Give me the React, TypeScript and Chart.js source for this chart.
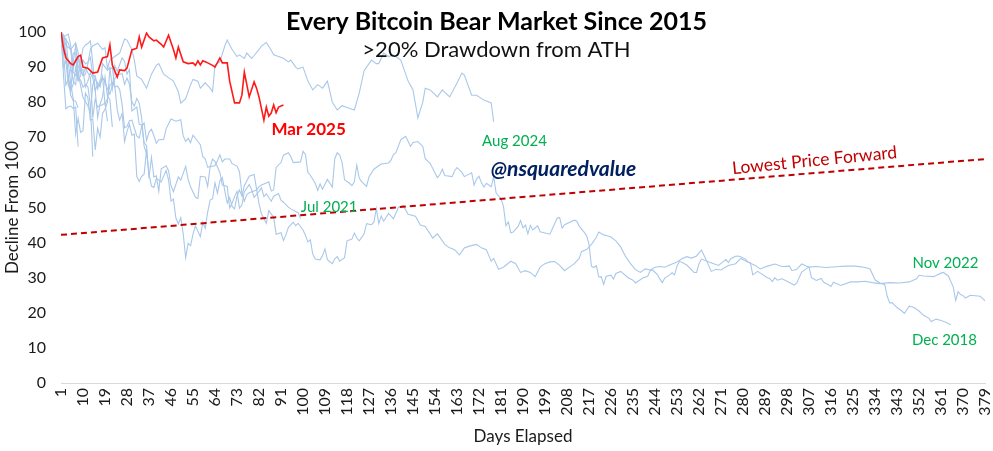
import React, { useEffect, useRef } from "react";
import { Chart, registerables } from "chart.js";

Chart.register(...registerables);

// ---------- data ----------
const X_TICKS = [1, 10, 19, 28, 37, 46, 55, 64, 73, 82, 91, 100, 109, 118, 127, 136, 145, 154, 163, 172, 181, 190, 199, 208, 217, 226, 235, 244, 253, 262, 271, 280, 289, 298, 307, 316, 325, 334, 343, 352, 361, 370, 379];
const Y_MIN = 0;
const Y_MAX = 100;
const Y_STEP = 10;

// [day, value]
const MAR_2025: [number, number][] = [
  [1, 100], [2, 95.5], [3, 92.6], [5, 91], [6, 90.6], [8, 93], [9, 93.4], [10, 90], [12, 89.7], [14, 88.3], [16, 88.6],
  [18, 92.6], [20, 93], [21, 96.3], [22, 90.6], [24, 87.2], [25, 89.2], [27, 89], [28, 89.7], [30, 94.9], [32, 95.4],
  [33, 98.6], [34, 95.7], [36, 99.7], [37, 98.6], [39, 97.5], [40, 97.7], [42, 96.5], [43, 95.7], [45, 99.1], [47, 95],
  [48, 92.6], [49, 95.7], [51, 91.5], [53, 91], [55, 91.2], [56, 90.5], [57, 91.8], [58, 90.6], [59, 91.8], [60, 91.5],
  [61, 91.2], [63, 90.5], [64, 90], [66, 92.6], [67, 91.2], [69, 91.2], [70, 86], [72, 79.8], [74, 79.8], [75, 82],
  [76, 88.6], [78, 81.5], [80, 85.8], [81, 84], [82, 81.5], [84, 74.9], [85, 78.6], [86, 76], [87, 76.9], [88, 79.2],
  [89, 77], [90, 78.6], [92, 79.2],
];

const AUG_2024: [number, number][] = [
  [1, 100], [2, 97.7], [3, 93.5], [4, 92], [5, 90], [6, 86], [7, 85], [8, 92.8], [9, 90], [10, 87.5], [11, 88], [12, 91],
  [13, 95], [14, 96], [16, 96.8], [18, 95], [19, 95.5], [20, 89.6], [21, 92], [23, 93], [25, 94], [27, 98], [28, 97.7],
  [30, 95], [31, 92], [32, 87.5], [34, 86.5], [36, 84], [37, 86], [38, 88], [40, 90.5], [41, 91], [43, 88], [45, 87],
  [47, 86], [49, 83], [50, 79.7], [52, 81], [54, 85], [55, 86.5], [57, 86], [58, 84], [60, 85.5], [62, 84], [63, 83],
  [64, 90.6], [66, 91.5], [68, 96], [69, 97.7], [71, 95], [73, 93], [74, 93.5], [76, 92.5], [77, 94], [79, 92.5],
  [80, 93.3], [82, 95], [83, 96], [85, 97], [87, 94.8], [88, 93.5], [90, 93], [92, 92.5], [94, 91.5], [95, 92], [97, 90],
  [98, 89.5], [100, 90], [102, 86], [104, 83.5], [106, 85], [108, 84], [110, 86], [112, 80], [114, 77.8], [116, 79],
  [118, 78.5], [121, 77.8], [123, 82.6], [125, 89], [128, 92], [130, 91], [131, 91], [133, 94], [135, 93], [137, 93.4],
  [140, 92], [143, 86], [145, 83.5], [147, 75.5], [149, 80], [150, 84], [152, 83.5], [155, 81.5], [157, 83.5],
  [160, 81.5], [163, 85.5], [165, 88.3], [166, 87.7], [169, 82], [171, 82], [174, 80.6], [177, 79.8], [178, 74.4],
];

const JUL_2021: [number, number][] = [
  [1, 100], [2, 99.1], [4, 96.7], [5, 94.6], [6, 88.5], [7, 87.7], [8, 89], [9, 84.7], [10, 81.4], [12, 78.9], [13, 77.2],
  [14, 85], [15, 86.6], [17, 84.4], [18, 91], [20, 89.1], [21, 90], [22, 83.9], [23, 90.4], [24, 88.8], [26, 92.6],
  [27, 91.7], [28, 88], [29, 89.3], [30, 77.5], [32, 78.6], [33, 73.7], [34, 73.5], [35, 68.5], [36, 67.6], [37, 58.3],
  [38, 64.3], [39, 58.7], [40, 59], [41, 54.6], [42, 61], [44, 61.9], [45, 60.5], [46, 56.2], [47, 54.5], [49, 58.7],
  [50, 57.8], [52, 61.7], [53, 58], [54, 55.9], [56, 52.9], [57, 52.6], [58, 58.9], [60, 58.7], [61, 56], [62, 61.6],
  [63, 63.8], [64, 63.1], [66, 60], [67, 56.4], [69, 56], [70, 49.9], [71, 51.2], [72, 53.1], [73, 54.6], [74, 49.8],
  [75, 50.7], [76, 54.5], [78, 56.5], [79, 55.1], [80, 52.9], [82, 54.6], [83, 55.6], [84, 53.1], [85, 53.9], [87, 51.8],
  [88, 53.2], [90, 54], [91, 52.1], [92, 51.5], [94, 50.1], [95, 49.6], [98, 48.5], [99, 46.9],
];

const NOV_2022: [number, number][] = [
  [1, 100], [2, 99.1], [3, 96.2], [5, 95], [7, 96.9], [8, 94.1], [9, 89], [10, 89.3], [11, 84.3], [12, 86], [13, 88.4],
  [14, 86.9], [15, 83.3], [16, 85.2], [17, 84.7], [18, 87.3], [19, 79.5], [20, 81], [21, 84.8], [22, 85.6], [23, 84.3],
  [24, 84.6], [25, 83.6], [26, 79.3], [27, 72.7], [28, 73.1], [29, 74.7], [30, 74.9], [32, 70.4], [33, 69.8], [34, 73.1],
  [35, 74.1], [36, 69.1], [37, 71.5], [38, 72.3], [39, 70.5], [40, 68.3], [41, 69.3], [43, 69.4], [44, 72.4], [46, 75.2],
  [48, 74.6], [50, 75], [51, 70.4], [52, 68.8], [53, 69.7], [54, 68.5], [55, 70.6], [57, 68.8], [58, 67.9], [59, 64.5],
  [60, 63.9], [61, 61.5], [64, 61.9], [65, 63.3], [66, 65], [67, 63], [68, 63.8], [70, 63.8], [71, 62.5], [73, 61.8],
  [74, 60.2], [75, 54], [76, 51.8], [77, 53.7], [78, 54.2], [81, 55], [82, 55.9], [83, 56.4], [85, 57], [86, 57.3],
  [87, 54.7], [88, 55], [89, 61.4], [91, 62.8], [92, 64.9], [94, 65.6], [95, 64.5], [96, 62.8], [99, 63], [100, 66],
  [101, 65.1], [102, 60], [103, 59.2], [105, 56.9], [106, 54.9], [107, 56.7], [108, 55.2], [109, 56.7], [110, 58],
  [112, 55.8], [113, 63.9], [114, 65.6], [115, 65], [116, 62.8], [117, 57.9], [119, 56.9], [120, 56.2], [121, 57.3],
  [122, 62.1], [123, 58.4], [124, 57.4], [126, 56], [127, 58.7], [129, 60.9], [131, 61.9], [132, 62.4], [135, 62.7],
  [136, 63.5], [137, 65.1], [138, 65.6], [140, 69.3], [141, 69.8], [142, 70.3], [144, 67.4], [145, 68.5], [147, 68.8],
  [149, 67.4], [150, 63.9], [152, 62.6], [155, 58.5], [156, 59.4], [157, 60.9], [158, 59.1], [161, 58.8], [162, 60.4],
  [163, 61.4], [165, 60], [166, 58.8], [169, 59.9], [170, 56.4], [171, 58.1], [172, 58.9], [173, 57.1], [174, 55.8],
  [175, 56.9], [177, 55.9], [178, 58.8], [179, 54.1], [180, 53.3], [181, 52.5], [182, 50.4], [183, 44.8], [184, 45.9],
  [185, 42.8], [186, 43], [188, 44.6], [189, 46.3], [190, 44.2], [191, 45], [192, 42.5], [193, 44.9], [194, 43.6],
  [196, 44.8], [197, 43.1], [201, 42.4], [204, 47], [205, 47.1], [206, 44.1], [207, 45.1], [211, 46.4], [212, 46.1],
  [213, 44.7], [215, 43], [216, 42], [217, 39.6], [218, 33.3], [219, 32.9], [220, 33.4], [221, 30.2], [222, 30.3],
  [223, 28.1], [224, 30.4], [226, 30.7], [227, 29.6], [228, 31.2], [230, 31.8], [233, 30], [235, 29.3], [236, 28.5],
  [239, 29.9], [241, 30.4], [242, 32], [243, 32.2], [245, 30.9], [246, 29.6], [247, 28.6], [248, 29.9], [250, 30.8],
  [251, 31.4], [252, 30.8], [253, 33.3], [254, 34.6], [255, 34.4], [257, 33.6], [260, 31.5], [261, 31.5], [262, 34],
  [263, 35.3], [266, 34.5], [268, 34], [270, 33.5], [273, 35.2], [274, 34.3], [275, 35.4], [277, 36.1], [278, 36.2],
  [279, 36], [281, 35.3], [282, 34.5], [283, 34.3], [284, 30.8], [285, 31.3], [286, 31.8], [290, 30], [291, 29.7],
  [292, 28.9], [293, 30], [294, 29.3], [296, 29.7], [301, 27.9], [302, 28.5], [304, 31.6], [305, 32.1], [307, 33.1],
  [308, 30], [310, 29.2], [312, 29.8], [313, 28.7], [315, 28], [316, 27.5], [317, 28.7], [320, 27.8], [324, 28.8],
  [327, 28.8], [330, 29], [333, 28.6], [336, 28.3], [340, 28.6], [344, 28.5], [348, 28.8], [351, 29.7], [352, 30.7],
  [354, 30.5], [358, 30.3], [361, 31.3], [362, 31.5], [364, 30.5], [366, 27.4], [367, 23.5], [368, 26], [369, 25.2],
  [370, 24.9], [371, 24.2], [373, 25], [377, 24.7], [378, 24.1], [379, 23.4],
];

const DEC_2018: [number, number][] = [
  [1, 100], [2, 98.2], [3, 98], [4, 91.2], [5, 85.3], [6, 81], [7, 70.9], [8, 75.4], [9, 71.4], [10, 71.9], [11, 82.6],
  [12, 81.2], [13, 74.9], [14, 75.2], [15, 66.4], [16, 72.6], [17, 70], [18, 76.8], [19, 78], [20, 80], [21, 89.4],
  [22, 89.9], [23, 84.5], [24, 77.8], [25, 74.9], [26, 76.8], [27, 68.8], [28, 71.7], [29, 73.7], [30, 70.6], [31, 70.9],
  [32, 58.9], [33, 57.4], [34, 58.9], [35, 59.5], [36, 66.2], [37, 59.5], [38, 56.1], [39, 55.7], [40, 58.3], [42, 57.3],
  [44, 60.5], [45, 57.9], [46, 51.8], [47, 52.4], [48, 47], [49, 45.3], [50, 47.1], [51, 42.5], [52, 35.7], [53, 39.8],
  [54, 39.1], [55, 42.4], [56, 44.8], [58, 41.7], [59, 45.8], [60, 44.1], [61, 48.7], [62, 52.1], [63, 52.5], [64, 57],
  [65, 54.1], [66, 57.6], [67, 58.5], [68, 54.8], [69, 51.3], [70, 52.8], [71, 50.3], [72, 49.6], [73, 53.2], [74, 55],
  [75, 53.3], [76, 56.2], [78, 58.9], [80, 59.4], [81, 55.3], [82, 51.1], [83, 48.2], [85, 45.5], [86, 49.1], [88, 47.2],
  [89, 42.4], [91, 42.8], [92, 40.6], [93, 42.2], [94, 44.3], [96, 45.8], [97, 44.8], [98, 45.5], [100, 43.6], [101, 42.1],
  [102, 40.2], [103, 40.8], [104, 36.7], [105, 35.3], [107, 35.1], [108, 36.3], [109, 38.2], [110, 35.1], [112, 34],
  [113, 35.4], [114, 36], [115, 34.7], [117, 35.7], [118, 40.5], [120, 41], [121, 42.7], [122, 41.3], [123, 40.5],
  [125, 42.5], [126, 45.4], [128, 45.1], [129, 45.8], [130, 49.7], [131, 45.4], [132, 47.6], [133, 46.1], [135, 48.3],
  [137, 46.8], [139, 50], [141, 50.6], [143, 48.1], [146, 47.5], [148, 45], [150, 44.6], [152, 42.5], [153, 41.3],
  [155, 42.5], [158, 39.5], [160, 38.5], [162, 38], [164, 36.5], [166, 38.5], [168, 39], [171, 39.5], [173, 38.5],
  [175, 38], [177, 34.7], [178, 35.5], [180, 32.4], [182, 33], [185, 34.7], [187, 34], [189, 31.5], [191, 32],
  [193, 31.5], [195, 30.3], [197, 33], [199, 34], [201, 34.5], [203, 34.6], [205, 33.5], [207, 32], [209, 33], [211, 34],
  [213, 35.5], [214, 37.5], [216, 38], [218, 39.5], [220, 41.5], [221, 43], [223, 42.2], [224, 42], [226, 41.6],
  [228, 40.5], [230, 38.7], [232, 36], [234, 34], [236, 32.3], [238, 31.5], [240, 32.5], [242, 32.2], [244, 33],
  [246, 33.2], [248, 33], [250, 33.6], [253, 34.5], [255, 35.4], [257, 36], [259, 35.6], [261, 36.2], [263, 37.9],
  [265, 35], [267, 31.8], [269, 32.4], [271, 32.2], [274, 33.5], [277, 34], [279, 35.5], [282, 34.5], [285, 33.5],
  [287, 32.5], [290, 33.3], [293, 33.9], [296, 33.2], [299, 33.3], [300, 32], [302, 32.4], [304, 33.9], [307, 33],
  [310, 33.2], [314, 32.9], [318, 33.1], [322, 33.3], [326, 33.3], [330, 32.9], [332, 32.5], [334, 29.4], [336, 28.5],
  [338, 28], [339, 24.7], [340, 22.8], [341, 22.9], [343, 21.5], [345, 20.5], [346, 19.8], [348, 21.9], [350, 21.5],
  [352, 20.5], [354, 19.2], [356, 18.5], [357, 17.5], [359, 18.2], [361, 17.8], [363, 17.3], [365, 16.6],
];

const JAN_2017: [number, number][] = [
  [1, 100], [2, 87.8], [3, 78.1], [4, 78.7], [5, 78.9], [6, 78.2], [7, 78.6], [8, 67.4],
];
const MAR_2017: [number, number][] = [
  [1, 100], [2, 98.8], [3, 99], [4, 99.4], [5, 96], [6, 89.5], [7, 92.5], [8, 86.8], [9, 91.5], [10, 95.4], [11, 96.3],
  [12, 96.7], [13, 97.5], [14, 91.2], [15, 83.3], [16, 75.6], [17, 79.5], [18, 81.5], [19, 87.2], [20, 81.6], [21, 80.8],
  [22, 72.9],
];
const JUL_2017: [number, number][] = [
  [1, 100], [2, 89.9], [3, 91.9], [4, 84.7], [5, 83.3], [6, 85.1], [7, 89.8], [8, 86.1], [9, 87.5], [10, 92], [11, 90.9],
  [12, 91.4], [13, 92.8], [14, 87.5], [15, 87.5], [16, 83.8], [17, 86.3], [18, 87], [19, 85.8], [20, 83.8], [21, 82.3],
  [22, 84.7], [23, 86.7], [24, 87.9], [25, 87.9], [26, 88.2], [27, 85.1], [28, 86.9], [29, 85.1], [30, 80.2], [31, 78.9],
  [32, 81.1], [33, 79.7], [34, 75.5], [35, 67.5], [36, 65.2],
];
const SEP_2017: [number, number][] = [
  [1, 100], [2, 93.6], [3, 93.7], [4, 86.6], [5, 89.5], [6, 94], [7, 94], [8, 86.4], [9, 86.4], [10, 84.3], [11, 85],
  [12, 84.4], [13, 79.4], [14, 64.5],
];
const JAN_2021: [number, number][] = [
  [1, 100], [2, 98.7], [3, 94], [4, 87.2], [5, 83.2], [6, 91.5], [7, 96], [8, 90.3], [9, 88.7], [10, 87.7], [11, 89.8],
  [12, 88.4], [13, 87.1], [14, 75.6], [15, 80.9], [16, 78.6], [17, 79.1], [18, 79.3], [19, 79.8], [20, 74.6],
];
const FEB_2021: [number, number][] = [
  [1, 100], [2, 94.3], [3, 84.9], [4, 86.5], [5, 81.9], [6, 80.5], [7, 80.3], [8, 78.4],
];

const LOWEST_PRICE_FORWARD: [number, number][] = [[1, 42.2], [379, 63.8]];

const BLUE_SERIES = [AUG_2024, NOV_2022, DEC_2018, JUL_2021, JAN_2017, MAR_2017, JUL_2017, SEP_2017, JAN_2021, FEB_2021];

// ---------- text ----------
const TITLE = "Every Bitcoin Bear Market Since 2015";
const SUBTITLE = ">20% Drawdown from ATH";
const X_TITLE = "Days Elapsed";
const Y_TITLE = "Decline From 100";

const FONT = "Lato, 'Open Sans', sans-serif";

const NOTES = [
  { text: "Mar 2025", day: 102.3, value: 70.7, color: "#ff0000", font: `bold 17px ${FONT}`, rot: 0 },
  { text: "Aug 2024", day: 186.5, value: 67.5, color: "#00b050", font: `15px ${FONT}`, rot: 0 },
  { text: "@nsquaredvalue", day: 206.6, value: 59, color: "#002060", font: `italic bold 21px ${FONT}`, rot: 0 },
  { text: "Lowest Price Forward", day: 309.5, value: 61.8, color: "#c00000", font: `17.5px ${FONT}`, rot: -5.6 },
  { text: "Jul 2021", day: 110.7, value: 48.7, color: "#00b050", font: `15px ${FONT}`, rot: 0 },
  { text: "Nov 2022", day: 362.8, value: 32.8, color: "#00b050", font: `15px ${FONT}`, rot: 0 },
  { text: "Dec 2018", day: 362.4, value: 10.8, color: "#00b050", font: `15px ${FONT}`, rot: 0 },
];

const toXY = (arr: [number, number][]) => arr.map(([x, y]) => ({ x, y }));

const textPlugin = {
  id: "textOverlay",
  afterDraw(chart: any) {
    const { ctx } = chart;
    const xs = chart.scales.x;
    const ys = chart.scales.y;
    ctx.save();
    ctx.textAlign = "center";
    ctx.textBaseline = "alphabetic";
    ctx.fillStyle = "#000000";
    ctx.font = `bold 25px ${FONT}`;
    ctx.fillText(TITLE, chart.width / 2, 30);
    ctx.fillStyle = "#111111";
    ctx.font = `22px ${FONT}`;
    ctx.fillText(SUBTITLE, chart.width / 2, 57);
    for (const n of NOTES) {
      const px = xs.getPixelForValue(n.day);
      const py = ys.getPixelForValue(n.value);
      ctx.save();
      ctx.translate(px, py);
      ctx.rotate((n.rot * Math.PI) / 180);
      ctx.font = n.font;
      ctx.fillStyle = n.color;
      ctx.fillText(n.text, 0, 0);
      ctx.restore();
    }
    ctx.restore();
  },
};

export default function App() {
  const canvasRef = useRef<HTMLCanvasElement | null>(null);

  useEffect(() => {
    if (!canvasRef.current) return;
    const datasets: any[] = [
      {
        label: "Mar 2025",
        data: toXY(MAR_2025),
        borderColor: "#ff1a1a",
        borderWidth: 1.6,
        pointRadius: 0,
        tension: 0,
        fill: false,
      },
      {
        label: "Lowest Price Forward",
        data: toXY(LOWEST_PRICE_FORWARD),
        borderColor: "#c00000",
        borderWidth: 2,
        borderDash: [6, 4],
        pointRadius: 0,
        tension: 0,
        fill: false,
      },
      ...BLUE_SERIES.map((s, i) => ({
        label: "bear" + i,
        data: toXY(s),
        borderColor: "#a9c8e9",
        borderWidth: 1.1,
        pointRadius: 0,
        tension: 0,
        fill: false,
      })),
    ];

    const chart = new Chart(canvasRef.current, {
      type: "line",
      data: { datasets },
      plugins: [textPlugin],
      options: {
        animation: false,
        responsive: true,
        maintainAspectRatio: false,
        events: [],
        layout: { padding: { top: 32, right: 8, left: 0, bottom: 0 } },
        plugins: {
          legend: { display: false },
          tooltip: { enabled: false },
        },
        scales: {
          x: {
            type: "linear",
            min: 1,
            max: 379,
            afterBuildTicks: (scale: any) => {
              scale.ticks = X_TICKS.map((v) => ({ value: v }));
            },
            afterFit: (scale: any) => {
              scale.height = 68;
              scale.paddingLeft = 0;
              scale.paddingRight = 0;
            },
            ticks: {
              autoSkip: false,
              minRotation: 90,
              maxRotation: 90,
              padding: 5,
              color: "#1a1a1a",
              font: { family: FONT, size: 16 },
            },
            grid: { display: true, color: "rgba(0,0,0,0)", drawTicks: false },
            border: { display: true, color: "#d9d9d9", width: 1 },
            title: {
              display: true,
              text: X_TITLE,
              color: "#1a1a1a",
              font: { family: FONT, size: 17 },
              padding: { top: 0, bottom: 4 },
            },
          },
          y: {
            min: Y_MIN,
            max: Y_MAX,
            afterFit: (scale: any) => {
              scale.width = 61;
              scale.paddingTop = 0;
              scale.paddingBottom = 0;
            },
            ticks: {
              stepSize: Y_STEP,
              padding: 15,
              color: "#1a1a1a",
              font: { family: FONT, size: 16 },
            },
            grid: { display: false, drawTicks: false },
            border: { display: false },
            title: {
              display: true,
              text: Y_TITLE,
              color: "#1a1a1a",
              font: { family: FONT, size: 17 },
              padding: { top: 2, bottom: 0 },
            },
          },
        },
      } as any,
    });

    if ((document as any).fonts && (document as any).fonts.ready) {
      (document as any).fonts.ready.then(() => chart.update());
    }

    return () => {
      chart.destroy();
    };
  }, []);

  return (
    <div style={{ position: "absolute", left: 0, top: 0, width: "993px", height: "451px", background: "#ffffff" }}>
      <canvas ref={canvasRef} />
    </div>
  );
}
